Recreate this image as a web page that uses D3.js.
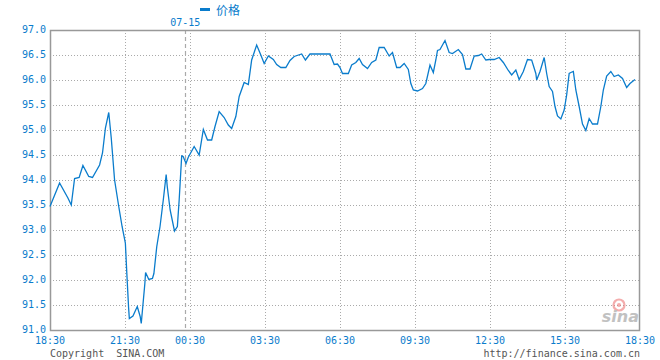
<!DOCTYPE html>
<html>
<head>
<meta charset="utf-8">
<script src="https://cdn.jsdelivr.net/npm/d3@7"></script>
<style>
  html, body { margin: 0; padding: 0; background: #fff; }
  svg { display: block; }
</style>
</head>
<body>
<svg id="chart" width="660" height="360"></svg>
<script>
// ---- data ----
// minutes elapsed since 18:30 (07-14)
const minutes = [0,23,43,51,59,70,79,93,102,119,126,133,141,147,155,165,173,181,185,190,192,202,214,222,225,230,235,237,246,256,260,268,277,286,294,297,305,317,325,330,337,341,349,355,370,382,392,402,412,420,430,442,452,460,470,478,490,500,508,520,530,538,548,560,568,578,590,600,610,628,637,648,696,706,714,720,726,740,748,758,766,774,786,796,806,814,826,838,846,856,864,874,884,890,896,906,918,926,936,944,950,954,960,972,982,990,1004,1014,1022,1032,1042,1052,1060,1070,1078,1090,1102,1112,1124,1132,1142,1150,1160,1170,1180,1190,1192,1200,1210,1216,1222,1230,1236,1242,1250,1258,1264,1270,1274,1280,1286,1294,1302,1310,1318,1326,1338,1346,1352,1360,1370,1378,1388,1398,1408,1416,1428];
const prices = [93.47,93.94,93.64,93.50,94.03,94.05,94.29,94.07,94.05,94.30,94.54,95.04,95.35,94.84,94.00,93.47,93.07,92.74,92.14,91.44,91.23,91.28,91.47,91.27,91.13,91.53,91.93,92.15,92.01,92.03,92.13,92.67,93.07,93.60,94.11,93.87,93.40,92.98,93.07,93.60,94.48,94.47,94.33,94.45,94.67,94.50,95.01,94.80,94.80,95.07,95.37,95.25,95.10,95.03,95.27,95.67,95.95,95.91,96.40,96.70,96.50,96.33,96.48,96.41,96.31,96.25,96.25,96.39,96.47,96.52,96.40,96.52,96.52,96.31,96.32,96.25,96.13,96.13,96.30,96.35,96.43,96.31,96.23,96.35,96.40,96.65,96.65,96.48,96.55,96.25,96.25,96.33,96.21,95.93,95.80,95.78,95.83,95.93,96.30,96.15,96.40,96.59,96.61,96.79,96.55,96.53,96.61,96.51,96.22,96.22,96.48,96.49,96.52,96.40,96.41,96.41,96.45,96.35,96.19,96.10,96.20,96.01,96.17,96.41,96.40,96.13,96.00,96.17,96.45,96.13,95.87,95.77,95.47,95.28,95.22,95.40,95.70,96.13,96.15,96.17,95.80,95.47,95.12,94.99,95.23,95.12,95.12,95.47,95.80,96.08,96.17,96.07,96.10,96.03,95.85,95.93,96.01];
const xTickMinutes = [0,180,360,540,720,900,1080,1260,1440];
const xTickLabels = ["18:30","21:30","00:30","03:30","06:30","09:30","12:30","15:30","18:30"];
const yTicks = [91.0,91.5,92.0,92.5,93.0,93.5,94.0,94.5,95.0,95.5,96.0,96.5,97.0];
const dateBreakMinute = 347;
const dateLabel = "07-15";
const seriesName = "价格";

// ---- layout ----
const L = 50, R = 640, T = 30, B = 330;
const blue = "#0a7ccc";
const mono = "'DejaVu Sans Mono', 'Liberation Mono', monospace";

const svg = d3.select("#chart");

const x = d3.scaleLinear().domain([0, 180, 360, 1440]).range([L, 125, 190, R]);
const y = d3.scaleLinear().domain([91, 97]).range([B, T]);

// grid horizontal
svg.append("g").selectAll("line").data(yTicks.filter(v => v > 91 && v < 97)).join("line")
  .attr("x1", L).attr("x2", R)
  .attr("y1", d => Math.round(y(d)) + 0.5).attr("y2", d => Math.round(y(d)) + 0.5)
  .attr("stroke", "#aaa").attr("stroke-width", 1).attr("stroke-dasharray", "1,2");

// grid vertical
svg.append("g").selectAll("line").data(xTickMinutes.slice(1, -1)).join("line")
  .attr("x1", d => Math.round(x(d)) + 0.5).attr("x2", d => Math.round(x(d)) + 0.5)
  .attr("y1", T).attr("y2", B)
  .attr("stroke", "#aaa").attr("stroke-width", 1).attr("stroke-dasharray", "1,2");

// date break dashed line
svg.append("line")
  .attr("x1", Math.round(x(dateBreakMinute)) + 0.5).attr("x2", Math.round(x(dateBreakMinute)) + 0.5)
  .attr("y1", T).attr("y2", B)
  .attr("stroke", "#aaa").attr("stroke-width", 1.2).attr("stroke-dasharray", "4,3");

svg.append("text")
  .attr("x", x(dateBreakMinute)).attr("y", 26)
  .attr("text-anchor", "middle")
  .attr("font-family", mono).attr("font-size", 10).attr("fill", blue)
  .text(dateLabel);

// frame
svg.append("rect")
  .attr("x", L + 0.5).attr("y", T + 0.5).attr("width", R - L - 1).attr("height", B - T)
  .attr("fill", "none").attr("stroke", "#999").attr("stroke-width", 1.5);

// y tick labels
svg.append("g").selectAll("text").data(yTicks).join("text")
  .attr("x", 46).attr("y", d => y(d) + 3)
  .attr("text-anchor", "end")
  .attr("font-family", mono).attr("font-size", 10).attr("fill", blue)
  .text(d => d.toFixed(1));

// x tick labels
svg.append("g").selectAll("text").data(xTickMinutes).join("text")
  .attr("x", (d) => x(d)).attr("y", 344)
  .attr("text-anchor", "middle")
  .attr("font-family", mono).attr("font-size", 10).attr("fill", blue)
  .text((d, i) => xTickLabels[i]);

// footer
svg.append("text").attr("x", 50).attr("y", 357)
  .attr("font-family", mono).attr("font-size", 10).attr("fill", "#555")
  .attr("xml:space", "preserve").style("white-space", "pre")
  .text("Copyright  SINA.COM");
svg.append("text").attr("x", 640).attr("y", 357).attr("text-anchor", "end")
  .attr("font-family", mono).attr("font-size", 10).attr("fill", "#555")
  .text("http://finance.sina.com.cn");

// sina watermark
const wm = svg.append("g").attr("opacity", 0.6);
wm.append("circle").attr("cx", 619).attr("cy", 305).attr("r", 5.5)
  .attr("fill", "none").attr("stroke", "#e77").attr("stroke-width", 2.2);
wm.append("circle").attr("cx", 619).attr("cy", 305).attr("r", 2).attr("fill", "#e77");
wm.append("text").attr("x", 639).attr("y", 322).attr("text-anchor", "end")
  .attr("font-family", "'DejaVu Sans', sans-serif").attr("font-size", 16)
  .attr("font-weight", "bold").attr("font-style", "italic").attr("fill", "#999")
  .text("sina");

// legend
svg.append("rect").attr("x", 200).attr("y", 8).attr("width", 10).attr("height", 3).attr("fill", blue);
svg.append("text").attr("x", 216).attr("y", 15)
  .attr("font-family", "'Noto Sans CJK SC', sans-serif").attr("font-size", 12).attr("fill", blue)
  .text(seriesName);

// price line
const data = minutes.map((m, i) => ({ m, p: prices[i] }));
svg.append("path").datum(data)
  .attr("fill", "none").attr("stroke", blue).attr("stroke-width", 1.3)
  .attr("d", d3.line().x(d => x(d.m)).y(d => y(d.p)));
</script>
</body>
</html>
